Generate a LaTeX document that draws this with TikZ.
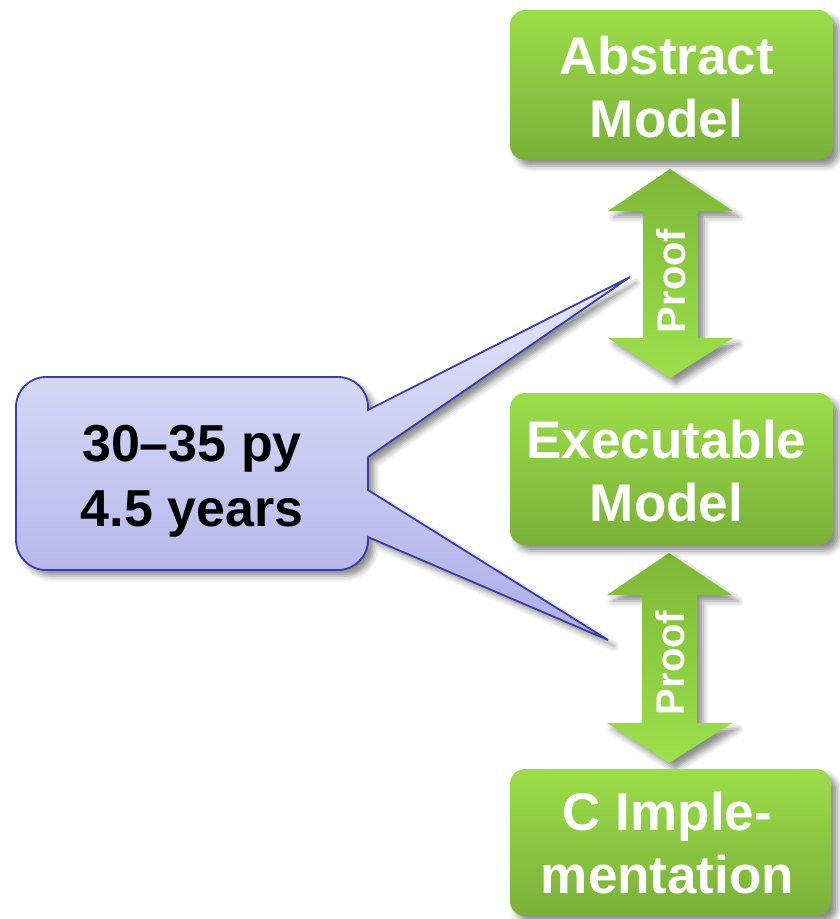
\documentclass[tikz,border=0pt]{standalone}
\usepackage{fontspec}
\setmainfont{Liberation Sans}
\usetikzlibrary{shadows.blur}

\definecolor{stagetop}{RGB}{156,221,74}
\definecolor{stagebot}{RGB}{121,176,56}
\definecolor{arrowtop}{RGB}{126,184,54}
\definecolor{arrowbot}{RGB}{156,224,76}
\definecolor{bubbletop}{RGB}{228,230,251}
\definecolor{bubblebot}{RGB}{172,174,232}
\definecolor{bubbleline}{RGB}{58,60,168}

% double-headed proof arrow: centre x, top tip y, bottom tip y
\newcommand\proofarrow[3]{%
  \path[proofshape]
    (#1,#2) -- (#1+63,#2+42) -- (#1+28,#2+42) -- (#1+28,#3-40)
    -- (#1+63,#3-40) -- (#1,#3) -- (#1-62,#3-40) -- (#1-27,#3-40)
    -- (#1-27,#2+42) -- (#1-62,#2+42) -- cycle;}

\begin{document}
\begin{tikzpicture}[x=1pt,y=-1pt,
  softshadow/.style={blur shadow={shadow xshift=6pt, shadow yshift=-6pt,
      shadow blur radius=6pt, shadow opacity=45}},
  stage/.style={rectangle, rounded corners=15pt, top color=stagetop,
      bottom color=stagebot, minimum width=323pt, inner sep=0pt, softshadow},
  stagetext/.style={text=white, align=center, inner sep=0pt,
      font=\fontsize{53}{63}\selectfont\bfseries},
  proofshape/.style={top color=arrowtop, bottom color=arrowbot, softshadow},
  prooflabel/.style={rotate=90, text=white, inner sep=0pt,
      font=\fontsize{40}{40}\selectfont\bfseries},
  bubble/.style={top color=bubbletop, bottom color=bubblebot,
      draw=bubbleline, line width=1.8pt, line join=miter, softshadow},
  bubbletext/.style={align=center, text=black,
      font=\fontsize{52}{65}\selectfont\bfseries}]

\useasboundingbox (0,0) rectangle (840,919);

% callout with its two pointers
\coordinate (tipA) at (630,277);
\coordinate (tipB) at (608,640);
\path[bubble]
  (46,377) -- (338,377) arc[start angle=-90, end angle=0, radius=30]
  -- (368,410) -- (tipA) -- (368,457) -- (368,490) -- (tipB) -- (368,537)
  -- (368,540) arc[start angle=0, end angle=90, radius=30]
  -- (46,570) arc[start angle=90, end angle=180, radius=30]
  -- (16,407) arc[start angle=180, end angle=270, radius=30] -- cycle;
\node[bubbletext] (effort) at (192,481) {30–35 py\\4.5 years};

% proof arrows between the stages
\proofarrow{670}{169}{378}
\node[prooflabel] (proofA) at (671,281) {Proof};
\proofarrow{669}{553}{763}
\node[prooflabel] (proofB) at (670,663) {Proof};

% the three stages
\node[stage, minimum height=150pt] (abstract) at (671.5,85) {};
\node[stagetext] (abstract-text) at ([xshift=-5pt,yshift=-2pt]abstract.center) {Abstract\\Model};
\node[stage, minimum height=152pt] (exec) at (671.5,469) {};
\node[stagetext] (exec-text) at ([xshift=-5pt,yshift=-2pt]exec.center) {Executable\\Model};
\node[stage, minimum height=147pt, minimum width=321pt] (cimpl) at (670.5,842.5) {};
\node[stagetext] (cimpl-text) at ([xshift=-3pt,yshift=-1pt]cimpl.center) {C Imple-\\mentation};

\end{tikzpicture}
\end{document}
